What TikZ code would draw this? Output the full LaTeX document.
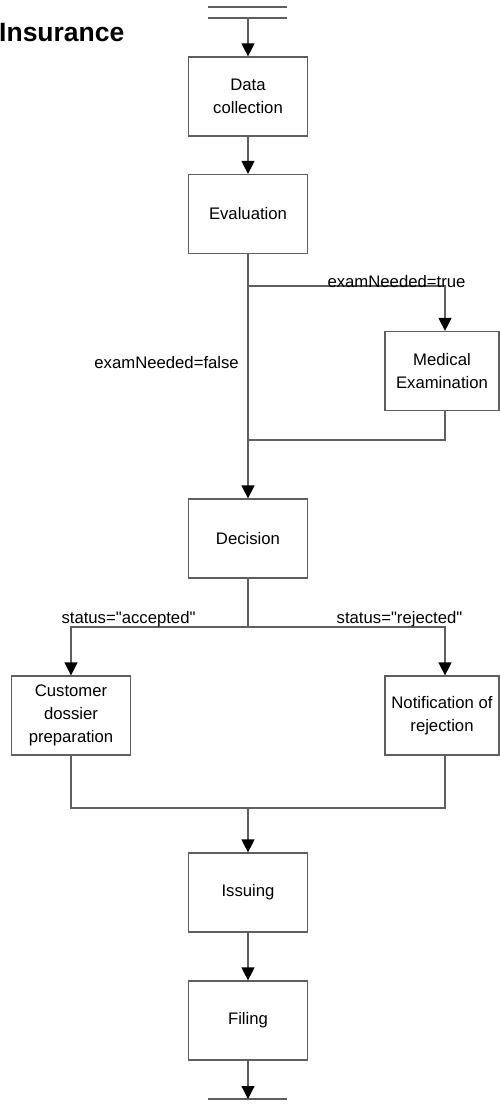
\documentclass[tikz,border=0pt]{standalone}
\usepackage{fontspec}
\setmainfont{Liberation Sans}
\usetikzlibrary{arrows.meta,calc}
\definecolor{linegray}{RGB}{95,95,95}
\begin{document}
\begin{tikzpicture}[x=1pt,y=-1pt,
  every node/.style={font=\fontsize{16.7}{23}\selectfont},
  task/.style={draw=linegray, line width=1.2pt, fill=white, minimum width=119pt,
    minimum height=79pt, inner sep=0pt, align=center},
  sidetask/.style={task, minimum width=114pt},
  flow/.style={draw=linegray, line width=1.2pt},
  arr/.style={flow, -{Triangle[length=13pt,width=13pt,color=black,fill=black]}},
  cond/.style={inner sep=0pt, anchor=base}]
\useasboundingbox (0,0) rectangle (500,1108);

% title
\node[anchor=base west, inner sep=0pt, font=\fontsize{26.5}{30}\selectfont\bfseries] (title) at (-1,42) {Insurance};

% start and end bars
\coordinate (s1) at (208,7);   \coordinate (s2) at (287,7);
\coordinate (s3) at (208,18);  \coordinate (s4) at (287,18);
\coordinate (start) at (248,18);
\coordinate (e1) at (208,1099); \coordinate (e2) at (287,1099);
\coordinate (finish) at (248,1099);
\draw[flow] (s1) -- (s2);
\draw[flow] (s3) -- (s4);
\draw[flow] (e1) -- (e2);

% activities
\node[task] (data) at (248,96.5) {Data\\collection};
\node[task] (eval) at (248,214) {Evaluation};
\node[sidetask] (med) at (442,371) {Medical\\Examination};
\node[task] (dec) at (248,538.5) {Decision};
\node[task] (cust) at (71,715.5) {Customer\\dossier\\preparation};
\node[sidetask] (notif) at (442,715.5) {Notification of\\rejection};
\node[task] (issue) at (248,892.5) {Issuing};
\node[task] (file) at (248,1020.5) {Filing};

% junction points
\coordinate (split1) at (248,286);
\coordinate (merge1) at (248,440);
\coordinate (split2) at (248,627);
\coordinate (merge2) at (248,808);

% main line
\draw[arr] (start) -- (data.north);
\draw[arr] (data.south) -- (eval.north);
\draw[arr] (eval.south) -- (dec.north);

% examination branch
\draw[arr] (split1) -| ($(med.north)+(3,0)$);
\draw[flow] ($(med.south)+(3,0)$) |- (merge1);

% decision branches
\draw[flow] (dec.south) -- (split2);
\draw[arr] (split2) -| (cust.north);
\draw[arr] (split2) -| ($(notif.north)+(3,0)$);
\draw[flow] (cust.south) |- (merge2);
\draw[flow] ($(notif.south)+(3,0)$) |- (merge2);
\draw[arr] (merge2) -- (issue.north);
\draw[arr] (issue.south) -- (file.north);
\draw[arr] (file.south) -- (finish);

% conditions
\node[cond] (ctrue) at (396.5,287) {examNeeded=true};
\node[cond, anchor=base east] (cfalse) at (239,368) {examNeeded=false};
\node[cond] (cacc) at (128.5,623) {status=\textquotedbl accepted\textquotedbl};
\node[cond] (crej) at (399.5,623) {status=\textquotedbl rejected\textquotedbl};
\end{tikzpicture}
\end{document}
